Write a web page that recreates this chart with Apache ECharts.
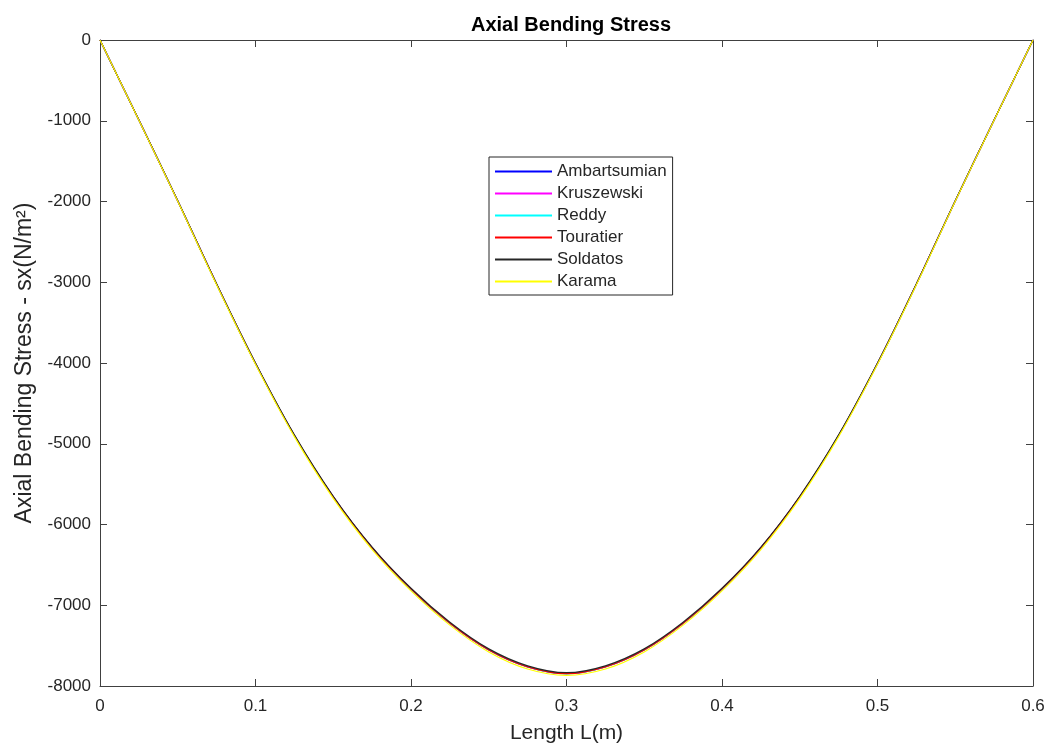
<!DOCTYPE html>
<html>
<head>
<meta charset="utf-8">
<script src="https://cdn.jsdelivr.net/npm/echarts@6/dist/echarts.min.js"></script>
<style>
  html, body { margin: 0; padding: 0; background: #fff; }
  #chart { width: 1048px; height: 745px; }
</style>
</head>
<body>
<div id="chart"></div>
<script>
// Beam length positions (m)
const lengthL = [0, 0.025, 0.05, 0.075, 0.1, 0.125, 0.15, 0.175, 0.2, 0.225, 0.25, 0.275, 0.3,
                 0.325, 0.35, 0.375, 0.4, 0.425, 0.45, 0.475, 0.5, 0.525, 0.55, 0.575, 0.6];

// Axial bending stress sx (N/m^2) for each shear deformation theory
const ambartsumian = [0, -992, -1994, -3024, -4006, -4897, -5658, -6290, -6800, -7222, -7552, -7762, -7846,
                      -7762, -7552, -7222, -6800, -6290, -5658, -4897, -4006, -3024, -1994, -992, 0];
const kruszewski   = [0, -992, -1994, -3024, -4006, -4897, -5658, -6290, -6801, -7223, -7553, -7763, -7847,
                      -7763, -7553, -7223, -6801, -6290, -5658, -4897, -4006, -3024, -1994, -992, 0];
const reddy        = [0, -992, -1994, -3025, -4007, -4898, -5660, -6292, -6802, -7224, -7554, -7764, -7849,
                      -7764, -7554, -7224, -6802, -6292, -5660, -4898, -4007, -3025, -1994, -992, 0];
const touratier    = [0, -992, -1994, -3024, -4006, -4897, -5658, -6290, -6801, -7223, -7553, -7763, -7847,
                      -7763, -7553, -7223, -6801, -6290, -5658, -4897, -4006, -3024, -1994, -992, 0];
const soldatos     = [0, -990, -1990, -3020, -4000, -4890, -5650, -6280, -6790, -7210, -7540, -7750, -7835,
                      -7750, -7540, -7210, -6790, -6280, -5650, -4890, -4000, -3020, -1990, -990, 0];
const karama       = [0, -994, -1998, -3032, -4016, -4912, -5676, -6310, -6822, -7246, -7578, -7790, -7868,
                      -7790, -7578, -7246, -6822, -6310, -5676, -4912, -4016, -3032, -1998, -994, 0];

const xTicks = [0, 0.1, 0.2, 0.3, 0.4, 0.5, 0.6];
const yTicks = [-8000, -7000, -6000, -5000, -4000, -3000, -2000, -1000, 0];

const theories = [
  { name: 'Ambartsumian', values: ambartsumian, color: '#0000ff' },
  { name: 'Kruszewski',   values: kruszewski,   color: '#ff00ff' },
  { name: 'Reddy',        values: reddy,        color: '#00ffff' },
  { name: 'Touratier',    values: touratier,    color: '#ff0000' },
  { name: 'Soldatos',     values: soldatos,     color: '#262626' },
  { name: 'Karama',       values: karama,       color: '#ffff00' }
];

const FONT = '"Liberation Sans", Helvetica, Arial, sans-serif';
const AXIS_COLOR = '#404040';
const TEXT_COLOR = '#262626';

const chart = echarts.init(document.getElementById('chart'), null, { renderer: 'canvas' });

// Shared style for the four sides of the boxed frame (ticks point inward)
const frameAxis = (extra) => Object.assign({
  type: 'value',
  axisLine: { show: true, onZero: false, lineStyle: { color: AXIS_COLOR, width: 1 } },
  axisTick: { show: true, inside: true, length: 7, lineStyle: { color: AXIS_COLOR, width: 1 } },
  splitLine: { show: false }
}, extra);

chart.setOption({
  backgroundColor: '#ffffff',
  animation: false,
  textStyle: { fontFamily: FONT },
  title: {
    text: 'Axial Bending Stress',
    left: 566,
    textAlign: 'center',
    top: 10,
    textStyle: { fontFamily: FONT, fontSize: 20, fontWeight: 'bold', color: '#000' }
  },
  grid: { left: 100, right: 15, top: 40, bottom: 59, containLabel: false, outerBoundsMode: 'none' },
  legend: {
    orient: 'vertical',
    left: 489,
    top: 157,
    padding: [6, 6, 5, 6],
    itemWidth: 57,
    itemHeight: 2,
    itemGap: 5,
    icon: 'rect',
    backgroundColor: '#ffffff',
    borderColor: '#262626',
    borderWidth: 1,
    borderRadius: 0,
    textStyle: { fontFamily: FONT, fontSize: 17, color: TEXT_COLOR, lineHeight: 17 },
    data: theories.map(t => t.name)
  },
  xAxis: [
    frameAxis({
      min: xTicks[0], max: xTicks[xTicks.length - 1], interval: 0.1,
      position: 'bottom',
      name: 'Length L(m)',
      nameLocation: 'middle',
      nameGap: 37,
      nameTextStyle: { fontFamily: FONT, fontSize: 21, color: TEXT_COLOR },
      axisLabel: { margin: 12, fontSize: 17, color: TEXT_COLOR, fontFamily: FONT,
                   formatter: v => String(+v.toFixed(1)) }
    }),
    frameAxis({
      min: xTicks[0], max: xTicks[xTicks.length - 1], interval: 0.1,
      position: 'top',
      axisLabel: { show: false }
    })
  ],
  yAxis: [
    frameAxis({
      min: yTicks[0], max: yTicks[yTicks.length - 1], interval: 1000,
      position: 'left',
      name: 'Axial Bending Stress - sx(N/m²)',
      nameLocation: 'middle',
      nameGap: 63,
      nameRotate: 90,
      nameTextStyle: { fontFamily: FONT, fontSize: 23, color: TEXT_COLOR },
      axisLabel: { margin: 9, fontSize: 17, color: TEXT_COLOR, fontFamily: FONT,
                   formatter: v => String(v) }
    }),
    frameAxis({
      min: yTicks[0], max: yTicks[yTicks.length - 1], interval: 1000,
      position: 'right',
      axisLabel: { show: false }
    })
  ],
  series: theories.map(t => ({
    name: t.name,
    type: 'line',
    xAxisIndex: 0,
    yAxisIndex: 0,
    data: lengthL.map((x, i) => [x, t.values[i]]),
    smooth: 0.35,
    symbol: 'none',
    lineStyle: { color: t.color, width: 1.2 },
    itemStyle: { color: t.color }
  }))
});
</script>
</body>
</html>
